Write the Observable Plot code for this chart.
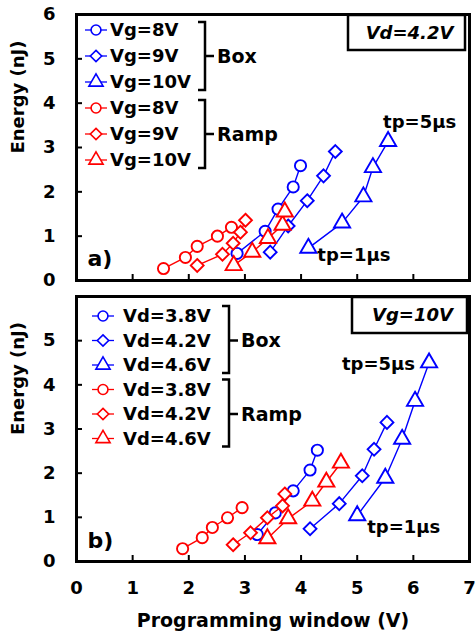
<!DOCTYPE html>
<html><head><meta charset="utf-8">
<script src="https://cdn.jsdelivr.net/npm/d3@7"></script>
<script src="https://cdn.jsdelivr.net/npm/@observablehq/plot@0.6"></script>
<style>
body{margin:0;background:#fff;width:475px;height:636px;overflow:hidden;font-family:"DejaVu Sans",sans-serif}
#chart svg{display:block}
</style></head><body><div id="chart"></div>
<script>
// ---- tick labels / text ----
const xTicks = [0, 1, 2, 3, 4, 5, 6, 7];
const yTicksA = [0, 1, 2, 3, 4, 5, 6];
const yTicksB = [0, 1, 2, 3, 4, 5];
const groups = ["Box", "Ramp"];
const labelsA = ["Vg=8V", "Vg=9V", "Vg=10V"];
const labelsB = ["Vd=3.8V", "Vd=4.2V", "Vd=4.6V"];
const conditionA = "Vd=4.2V";
const conditionB = "Vg=10V";
const panelNames = ["a)", "b)"];
const xTitle = "Programming window (V)";
const yTitle = "Energy (nJ)";
const tpStart = "tp=1μs";
const tpEnd = "tp=5μs";

// ---- panel a) Vd = 4.2 V ----
const aBoxVg8X  = [2.86, 3.36, 3.59, 3.86, 3.99];
const aBoxVg8E  = [0.61, 1.11, 1.61, 2.11, 2.59];
const aBoxVg9X  = [3.45, 3.77, 4.11, 4.40, 4.61];
const aBoxVg9E  = [0.64, 1.23, 1.80, 2.36, 2.91];
const aBoxVg10X = [4.13, 4.73, 5.11, 5.28, 5.55];
const aBoxVg10E = [0.73, 1.30, 1.89, 2.55, 3.14];
const aRampVg8X  = [1.55, 1.94, 2.15, 2.51, 2.76];
const aRampVg8E  = [0.27, 0.52, 0.77, 1.00, 1.20];
const aRampVg9X  = [2.15, 2.60, 2.79, 2.92, 3.01];
const aRampVg9E  = [0.34, 0.59, 0.84, 1.09, 1.36];
const aRampVg10X = [2.80, 3.13, 3.41, 3.67, 3.71];
const aRampVg10E = [0.34, 0.64, 0.95, 1.25, 1.55];

// ---- panel b) Vg = 10 V ----
const bBoxVd38X = [3.22, 3.54, 3.86, 4.16, 4.29];
const bBoxVd38E = [0.61, 1.10, 1.60, 2.07, 2.52];
const bBoxVd42X = [4.16, 4.68, 5.09, 5.30, 5.53];
const bBoxVd42E = [0.74, 1.31, 1.94, 2.54, 3.15];
const bBoxVd46X = [5.00, 5.50, 5.80, 6.03, 6.28];
const bBoxVd46E = [1.04, 1.89, 2.77, 3.63, 4.50];
const bRampVd38X = [1.89, 2.24, 2.42, 2.69, 2.95];
const bRampVd38E = [0.29, 0.54, 0.77, 0.99, 1.22];
const bRampVd42X = [2.79, 3.10, 3.40, 3.67, 3.71];
const bRampVd42E = [0.38, 0.65, 0.99, 1.26, 1.53];
const bRampVd46X = [3.40, 3.77, 4.20, 4.45, 4.71];
const bRampVd46E = [0.52, 0.97, 1.37, 1.80, 2.23];

// ---- styling ----
const colors = {Box: "#0000ff", Ramp: "#ff0000"};
const symbols = ["circle", "diamond2", "triangle"];
const symR = {circle: 5.6, diamond2: 5.8, triangle: 6};
const d3sym = {circle: d3.symbolCircle, diamond2: d3.symbolDiamond2, triangle: d3.symbolTriangle};
const FONT = "DejaVu Sans";

function mkSeries(xsList, esList, labels) {
  const out = [];
  groups.forEach((g, gi) => {
    labels.forEach((lab, li) => {
      const xs = xsList[gi * 3 + li], es = esList[gi * 3 + li];
      out.push({group: g, label: lab, symbol: symbols[li], color: colors[g],
        rows: xs.map((x, i) => ({x, e: es[i]}))});
    });
  });
  return out;
}

const seriesA = mkSeries(
  [aBoxVg8X, aBoxVg9X, aBoxVg10X, aRampVg8X, aRampVg9X, aRampVg10X],
  [aBoxVg8E, aBoxVg9E, aBoxVg10E, aRampVg8E, aRampVg9E, aRampVg10E], labelsA);
const seriesB = mkSeries(
  [bBoxVd38X, bBoxVd42X, bBoxVd46X, bRampVd38X, bRampVd42X, bRampVd46X],
  [bBoxVd38E, bBoxVd42E, bBoxVd46E, bRampVd38E, bRampVd42E, bRampVd46E], labelsB);

function buildPanel(cfg) {
  const marks = [];
  cfg.series.forEach(s => {
    marks.push(Plot.line(s.rows, {x: "x", y: "e", stroke: s.color, strokeWidth: 1.4}));
    marks.push(Plot.dot(s.rows, {x: "x", y: "e", symbol: s.symbol, r: symR[s.symbol],
      stroke: s.color, fill: "white", strokeWidth: 1.9}));
  });
  const key = cfg.series[2].rows; // Box, third condition -> annotated
  marks.push(Plot.text([key[key.length - 1]], {x: "x", y: "e", text: () => tpEnd, ...cfg.tpEnd,
    fontSize: 18, fontWeight: "bold", fill: "black"}));
  marks.push(Plot.text([key[0]], {x: "x", y: "e", text: () => tpStart, ...cfg.tpStart,
    fontSize: 18, fontWeight: "bold", fill: "black"}));
  marks.push(Plot.axisY(cfg.yTicks, {tickSize: -6, tickPadding: 27, fontSize: 18,
    fontWeight: "bold", label: null, strokeWidth: 2}));
  marks.push(cfg.xLabels
    ? Plot.axisX(xTicks, {tickSize: -6, tickPadding: 26, fontSize: 18, fontWeight: "bold", label: null, strokeWidth: 2})
    : Plot.axisX(xTicks, {tickSize: -6, tickFormat: () => "", label: null, strokeWidth: 2}));
  marks.push(Plot.frame({stroke: "black", strokeWidth: 3}));
  marks.push(Plot.text([cfg.name], {frameAnchor: "bottom-left", textAnchor: "start", lineAnchor: "middle",
    dx: 11, dy: cfg.nameDy, fontSize: 22, fontWeight: "bold"}));
  marks.push(Plot.text([yTitle], {frameAnchor: "left", rotate: -90, lineAnchor: "middle",
    dx: -58, dy: 6, fontSize: 18, fontWeight: "bold"}));
  if (cfg.xLabels) {
    marks.push(Plot.text([xTitle], {frameAnchor: "bottom", lineAnchor: "middle", dy: 59,
      fontSize: 19, fontWeight: "bold"}));
  }
  const svg = Plot.plot({
    width: 475, height: cfg.height,
    marginLeft: 76, marginRight: 6, marginTop: cfg.marginTop, marginBottom: cfg.marginBottom,
    x: {domain: [0, 7], axis: null},
    y: {domain: [0, 6], axis: null},
    style: {fontFamily: FONT, color: "black", background: "white", overflow: "visible"},
    marks
  });
  addLegend(svg, cfg);
  return svg;
}

function addLegend(svg, cfg) {
  const L = cfg.legend;
  const g = d3.select(svg).append("g").attr("font-family", FONT).attr("font-weight", "bold")
    .attr("font-size", 18).attr("text-anchor", "start");
  cfg.series.forEach((s, i) => {
    const y = L.y0 + L.dy * i;
    g.append("line").attr("x1", L.lx1).attr("x2", L.lx2).attr("y1", y).attr("y2", y)
      .attr("stroke", s.color).attr("stroke-width", 1.3);
    const r = symR[s.symbol] * 0.88;
    g.append("path").attr("transform", `translate(${L.mx},${y})`)
      .attr("d", d3.symbol(d3sym[s.symbol], r * r * Math.PI)())
      .attr("fill", "white").attr("stroke", s.color).attr("stroke-width", 1.6);
    g.append("text").attr("x", L.tx).attr("y", y).attr("dy", "0.36em").attr("fill", "black").text(s.label);
  });
  groups.forEach((grp, gi) => {
    const yTop = L.y0 + L.dy * (gi * 3) - L.bt;
    const yBot = L.y0 + L.dy * (gi * 3 + 2) + L.bb;
    const yMid = L.y0 + L.dy * (gi * 3 + 1);
    g.append("path").attr("d", `M${L.bx - 7},${yTop}H${L.bx}V${yBot}H${L.bx - 7}M${L.bx},${yMid}H${L.bx + 9}`)
      .attr("fill", "none").attr("stroke", "black").attr("stroke-width", 2.5);
    g.append("text").attr("x", L.bx + 12).attr("y", yMid).attr("dy", "0.36em").attr("font-size", 19)
      .attr("fill", "black").text(grp);
  });
  const C = cfg.cond;
  g.append("rect").attr("x", C.x).attr("y", C.y).attr("width", C.w).attr("height", C.h)
    .attr("fill", "white").attr("stroke", "black").attr("stroke-width", 2.5);
  g.append("text").attr("x", C.x + C.w / 2 + 3).attr("y", C.y + C.h / 2).attr("dy", "0.36em")
    .attr("text-anchor", "middle").attr("font-style", "italic").attr("fill", "black").text(C.text);
}

const topPanel = buildPanel({
  series: seriesA, yTicks: yTicksA, xLabels: false, name: panelNames[0], nameDy: -22,
  height: 290, marginTop: 14, marginBottom: 10,
  tpEnd: {textAnchor: "start", dx: -5, dy: -19},
  tpStart: {textAnchor: "start", dx: 9, dy: 7},
  legend: {y0: 30, dy: 26, lx1: 85, lx2: 107, mx: 96, tx: 110, bx: 205, bt: 8, bb: 8},
  cond: {x: 348, y: 15, w: 117, h: 35, text: conditionA}
});
const bottomPanel = buildPanel({
  series: seriesB, yTicks: yTicksB, xLabels: true, name: panelNames[1], nameDy: -21,
  height: 346, marginTop: 6, marginBottom: 75,
  tpEnd: {textAnchor: "end", dx: -14, dy: 1},
  tpStart: {textAnchor: "start", dx: 10, dy: 12},
  legend: {y0: 26, dy: 24.5, lx1: 92, lx2: 114, mx: 103, tx: 123, bx: 229, bt: 10, bb: 8},
  cond: {x: 352, y: 7, w: 115, h: 36, text: conditionB}
});
document.getElementById("chart").append(topPanel, bottomPanel);
</script></body></html>
